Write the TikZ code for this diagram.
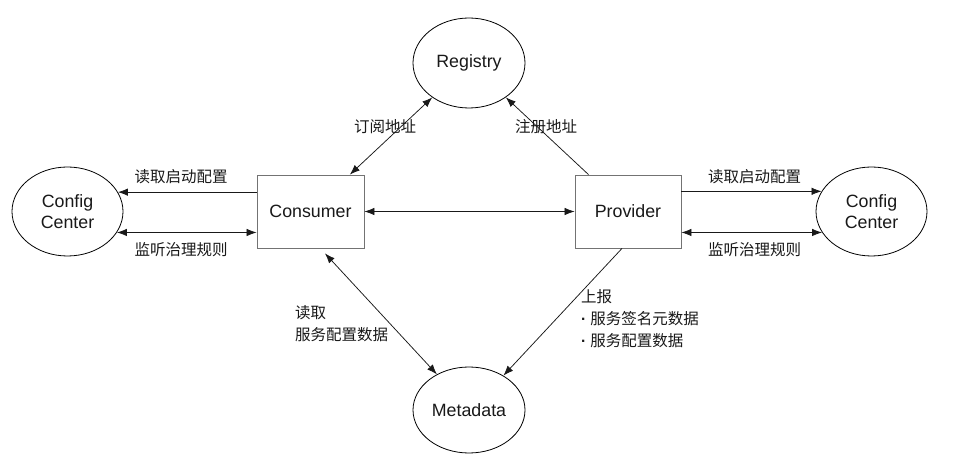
\documentclass[tikz,border=0pt]{standalone}
\usepackage{fontspec}
\setmainfont{Liberation Sans}
\newfontfamily\cjk{Noto Sans CJK SC}
\usetikzlibrary{arrows.meta,shapes.geometric}
\begin{document}
\begin{tikzpicture}[x=1pt,y=1pt,
  oval/.style={ellipse,draw=black,line width=0.8pt,inner sep=0pt,align=center,
    font=\fontsize{17.8}{21.5}\selectfont,text=black!90},
  boxnode/.style={rectangle,draw=black!55,line width=0.8pt,inner sep=0pt,
    font=\fontsize{17.8}{21.5}\selectfont,text=black!90},
  lbl/.style={font=\cjk\fontsize{15.5}{22}\selectfont,text=black!90,inner sep=0pt},
  conn/.style={line width=0.75pt,draw=black!90},
  arr/.style={conn,-{Latex[length=10pt,width=7.5pt]}},
  arrb/.style={conn,{Latex[length=10pt,width=7.5pt]}-{Latex[length=10pt,width=7.5pt]}}]
\useasboundingbox[fill=white] (0,0) rectangle (972,471);

\node[oval,minimum width=112pt,minimum height=90pt] (registry) at (469,408) {Registry};
\node[oval,minimum width=112pt,minimum height=86pt] (metadata) at (469,61) {Metadata};
\node[oval,minimum width=111pt,minimum height=89pt] (cfgL) at (67.5,259.5) {Config\\Center};
\node[oval,minimum width=111pt,minimum height=89pt] (cfgR) at (871.5,259.5) {Config\\Center};
\node[boxnode,minimum width=107pt,minimum height=73pt] (consumer) at (310.5,259.5) {Consumer};
\node[boxnode,minimum width=106pt,minimum height=73pt] (provider) at (628,259.5) {Provider};

% left config center
\draw[arr] (consumer.west |- cfgL.21.3) -- (cfgL.21.3);
\draw[arrb] (consumer.west |- cfgL.-23.9) -- (cfgL.-23.9);
\node[lbl] (lrd) at (181,294) {读取启动配置};
\node[lbl] (llt) at (181,221) {监听治理规则};

% right config center
\draw[arr] (provider.east |- cfgR.158.7) -- (cfgR.158.7);
\draw[arrb] (provider.east |- cfgR.203.9) -- (cfgR.203.9);
\node[lbl] (rrd) at (754.5,294) {读取启动配置};
\node[lbl] (rlt) at (754.5,221) {监听治理规则};

% consumer <-> provider
\draw[arrb] (consumer.east) -- (provider.west);

% registry
\draw[arrb] (consumer) -- (registry);
\draw[arr] (provider) -- (registry);
\node[lbl] (sub) at (385,344) {订阅地址};
\node[lbl] (reg) at (546,344) {注册地址};

% metadata
\draw[arrb] ([shift={(14.5pt,-5pt)}]consumer.south) -- (metadata.132.6);
\draw[arr] ([xshift=-6pt]provider.south) -- (metadata.45.8);
\node[lbl,anchor=west,align=left] (rdm) at (295,147.5) {读取\\服务配置数据};
\node[lbl,anchor=west,align=left] (rep) at (581,152.5) {上报\\{\normalfont\bfseries·}\hspace{4pt}服务签名元数据\\{\normalfont\bfseries·}\hspace{4pt}服务配置数据};
\end{tikzpicture}
\end{document}
